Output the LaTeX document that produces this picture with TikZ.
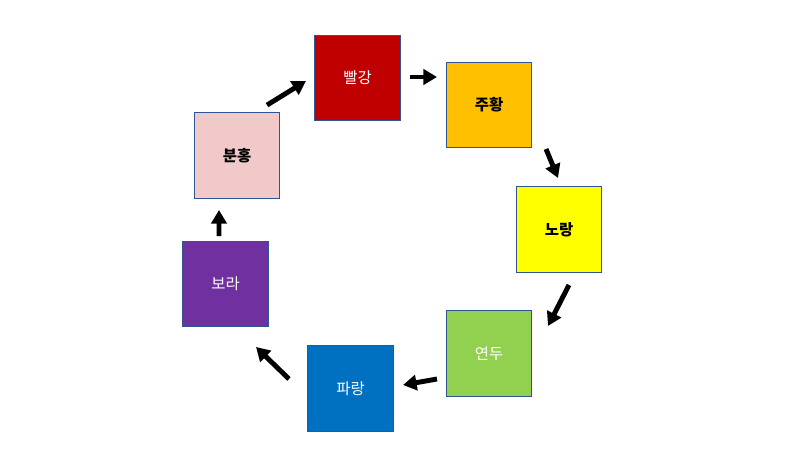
\documentclass[tikz,border=0pt]{standalone}
\usepackage{fontspec}
\setmainfont{Noto Sans CJK KR}
\usetikzlibrary{arrows.meta}
\definecolor{boxline}{HTML}{2F5597}
\definecolor{c-red}{HTML}{C00000}
\definecolor{c-orange}{HTML}{FFC000}
\definecolor{c-yellow}{HTML}{FFFF00}
\definecolor{c-green}{HTML}{92D050}
\definecolor{c-blue}{HTML}{0070C0}
\definecolor{c-purple}{HTML}{7030A0}
\definecolor{c-pink}{HTML}{F2C9C9}

\begin{document}
\begin{tikzpicture}
                            \tikzset{module/.style={draw=boxline, line width=0.6pt, shape=rectangle,
                                minimum size=2.14cm, inner sep=0pt, font=\fontsize{11}{13}\selectfont},
                                light/.style={module, text=white},
                                dark/.style={module, text=black, font=\fontsize{11}{13}\selectfont\bfseries},
                                flow/.style={line width=3.5pt, -{Triangle[length=0.34cm, width=0.38cm]}}}
                            \useasboundingbox (0, 0) rectangle (20, 11.25);
                            \node[light, fill=c-red] (R) at (8.94, 9.30){빨강};
                            \node[dark, fill=c-orange] (O) at (12.225, 8.625){주황};
                            \node[dark, fill=c-yellow] (Y) at (13.975, 5.5125){노랑};
                            \node[light, fill=c-green] (G) at (12.225, 2.4125){연두};
                            \node[light, fill=c-blue] (B) at (8.7625, 1.5375){파랑};
                            \node[light, fill=c-purple] (P) at (5.6375, 4.15){보라};
                            \node[dark, fill=c-pink] (K) at (5.925, 7.3625){분홍};

                            \draw[flow] ([shift={(0.75, 1.26)}]K.center) -- ([shift={(-1.29, -0.075)}]R.center);
                            \draw[flow] ([shift={(1.31, 0.025)}]R.center) -- ([shift={(-1.30, 0.70)}]O.center);
                            \draw[flow] ([shift={(1.425, -1.10)}]O.center) -- ([shift={(-0.025, 1.2875)}]Y.center);
                            \draw[flow] ([shift={(0.25, -1.3875)}]Y.center) -- ([shift={(1.475, 0.6875)}]G.center);
                            \draw[flow] ([shift={(-1.30, -0.6375)}]G.center) -- ([shift={(1.3125, 0.0875)}]B.center);
                            \draw[flow] ([shift={(-1.5375, 0.2375)}]B.center) -- ([shift={(0.7625, -1.575)}]P.center);
                            \draw[flow] ([shift={(-0.1625, 1.2)}]P.center) -- ([shift={(-0.45, -1.3625)}]K.center);
                        \end{tikzpicture}
\end{document}
